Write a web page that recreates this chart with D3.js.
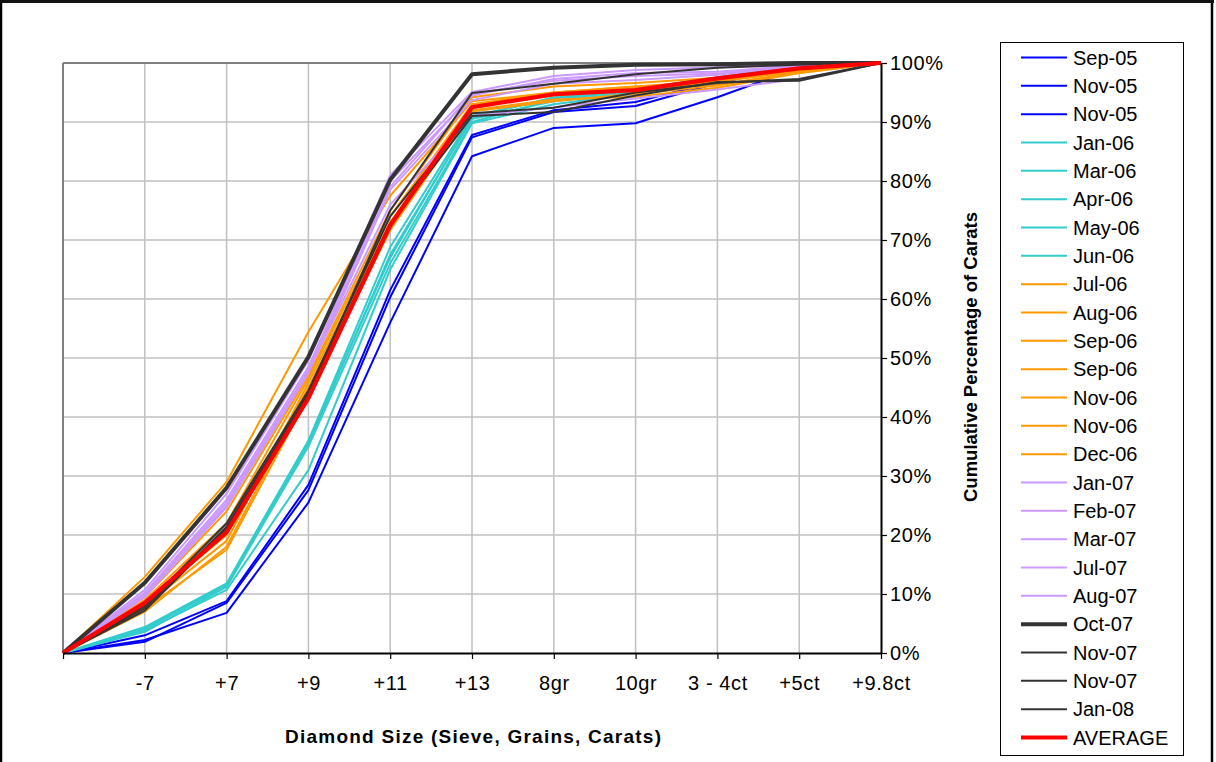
<!DOCTYPE html>
<html>
<head>
<meta charset="utf-8">
<script src="https://cdn.jsdelivr.net/npm/d3@7"></script>
<style>
  html, body { margin: 0; padding: 0; background: #fff; }
  svg { display: block; font-family: Arial, "Liberation Sans", sans-serif; }
</style>
</head>
<body>
<svg id="chart" width="1216" height="762"></svg>
<script>
// ---------- DATA ----------
const categories = ["", "-7", "+7", "+9", "+11", "+13", "8gr", "10gr", "3 - 4ct", "+5ct", "+9.8ct"];
const yTickValues = [0, 10, 20, 30, 40, 50, 60, 70, 80, 90, 100];

const seriesNames = ["Sep-05", "Nov-05", "Nov-05", "Jan-06", "Mar-06", "Apr-06", "May-06", "Jun-06",
  "Jul-06", "Aug-06", "Sep-06", "Sep-06", "Nov-06", "Nov-06", "Dec-06",
  "Jan-07", "Feb-07", "Mar-07", "Jul-07", "Aug-07",
  "Oct-07", "Nov-07", "Nov-07", "Jan-08", "AVERAGE"];

// cumulative % per series
const sep05  = [0, 2.2, 6.8, 25.5, 56.0, 84.2, 89.0, 89.8, 94.2, 99.2, 100];
const nov05a = [0, 1.9, 8.5, 27.6, 60.3, 87.4, 91.7, 92.7, 96.6, 99.5, 100];
const nov05b = [0, 3.0, 8.8, 28.5, 61.5, 87.8, 92.0, 93.4, 96.9, 99.6, 100];
const jan06  = [0, 4.4, 11.8, 36.0, 68.8, 91.0, 94.0, 95.5, 97.5, 99.3, 100];
const mar06  = [0, 4.0, 11.5, 35.5, 67.5, 90.5, 93.5, 95.0, 97.2, 99.2, 100];
const apr06  = [0, 3.6, 11.2, 35.0, 66.0, 90.0, 93.8, 95.3, 97.4, 99.4, 100];
const may06  = [0, 3.8, 10.7, 31.0, 65.0, 89.8, 93.0, 94.8, 97.0, 99.2, 100];
const jun06  = [0, 4.2, 11.6, 35.8, 67.0, 90.8, 94.2, 95.6, 97.6, 99.5, 100];
const jul06  = [0, 12.9, 29.0, 54.4, 77.5, 93.5, 95.0, 96.0, 96.3, 98.3, 100];
const aug06  = [0, 9.5, 24.0, 47.0, 75.0, 94.2, 96.0, 96.6, 97.5, 98.8, 100];
const sep06a = [0, 8.0, 19.0, 45.8, 73.0, 92.5, 94.5, 95.5, 96.8, 98.6, 100];
const sep06b = [0, 7.0, 18.0, 44.5, 72.0, 92.0, 93.8, 94.3, 95.8, 98.3, 100];
const nov06a = [0, 7.5, 17.5, 43.5, 71.7, 91.8, 93.5, 94.8, 96.2, 98.5, 100];
const nov06b = [0, 9.0, 22.0, 46.5, 74.0, 93.0, 95.0, 96.0, 97.0, 98.8, 100];
const dec06  = [0, 8.5, 20.0, 45.0, 72.5, 92.8, 94.8, 95.8, 97.2, 99.0, 100];
const jan07  = [0, 10.7, 27.0, 49.6, 81.0, 95.1, 97.8, 98.8, 99.3, 99.8, 100];
const feb07  = [0, 10.2, 26.0, 48.5, 80.0, 94.5, 97.3, 98.3, 98.5, 99.6, 100];
const mar07  = [0, 9.5, 24.7, 47.4, 78.5, 93.7, 96.5, 97.1, 98.0, 99.5, 100];
const jul07  = [0, 10.0, 25.5, 48.0, 79.0, 94.8, 97.0, 97.8, 98.2, 99.7, 100];
const aug07  = [0, 9.8, 25.0, 47.8, 76.0, 91.0, 92.5, 94.0, 95.5, 97.3, 100];
const oct07  = [0, 11.9, 28.0, 50.2, 80.2, 98.1, 99.2, 99.7, 99.8, 100, 100];
const nov07a = [0, 7.6, 21.4, 44.0, 75.0, 94.9, 96.5, 98.1, 99.2, 99.7, 100];
const nov07b = [0, 8.0, 22.0, 44.5, 74.0, 91.5, 92.4, 95.0, 96.6, 97.3, 100];
const jan08  = [0, 7.2, 21.0, 43.8, 72.8, 91.0, 91.7, 94.5, 96.8, 97.0, 100];
const average = [0, 8.5, 20.5, 43.2, 72.5, 92.5, 94.7, 95.4, 97.4, 99.1, 100];

const seriesValues = [sep05, nov05a, nov05b, jan06, mar06, apr06, may06, jun06,
  jul06, aug06, sep06a, sep06b, nov06a, nov06b, dec06,
  jan07, feb07, mar07, jul07, aug07,
  oct07, nov07a, nov07b, jan08, average];

// ---------- STYLE ----------
const BLUE = "#0000FF", TURQ = "#33CCCC", ORANGE = "#FF9900", LAV = "#CC99FF", DARK = "#333333", RED = "#FF0000";
function styleFor(i) {
  if (i < 3) return { color: BLUE, width: 2 };
  if (i < 8) return { color: TURQ, width: 2 };
  if (i < 15) return { color: ORANGE, width: 2 };
  if (i < 20) return { color: LAV, width: 2 };
  if (i === 20) return { color: DARK, width: 4 };
  if (i < 24) return { color: DARK, width: 2 };
  return { color: RED, width: 4.2 };
}

// ---------- LAYOUT ----------
const svg = d3.select("#chart");
const plot = { left: 63, right: 881, top: 63, bottom: 653 };

const x = d3.scalePoint().domain(categories).range([plot.left, plot.right]);
const y = d3.scaleLinear().domain([0, 100]).range([plot.bottom, plot.top]);

// outer border
svg.append("rect").attr("x", 1).attr("y", -2).attr("width", 1211).attr("height", 780)
  .attr("fill", "none").attr("stroke", "#000").attr("stroke-width", 2.5);
svg.append("rect").attr("x", 0).attr("y", 0).attr("width", 1214).attr("height", 3).attr("fill", "#111");

// gridlines
const grid = svg.append("g");
grid.selectAll("line.h").data(yTickValues.filter(d => d > 0 && d < 100)).enter().append("line")
  .attr("x1", plot.left).attr("x2", plot.right)
  .attr("y1", d => y(d)).attr("y2", d => y(d))
  .attr("stroke", "#C0C0C0").attr("stroke-width", 1.5);
grid.selectAll("line.v").data(categories.slice(1, -1)).enter().append("line")
  .attr("x1", d => x(d)).attr("x2", d => x(d))
  .attr("y1", plot.top).attr("y2", plot.bottom)
  .attr("stroke", "#C0C0C0").attr("stroke-width", 1.5);
// top and left plot border (gray)
svg.append("line").attr("x1", plot.left).attr("x2", plot.right).attr("y1", plot.top).attr("y2", plot.top)
  .attr("stroke", "#808080").attr("stroke-width", 2);
svg.append("line").attr("x1", plot.left).attr("x2", plot.left).attr("y1", plot.top).attr("y2", plot.bottom)
  .attr("stroke", "#808080").attr("stroke-width", 2);

// series lines
const line = d3.line().x((d, i) => x(categories[i])).y(d => y(d));
const lines = svg.append("g").attr("fill", "none").attr("stroke-linejoin", "round");
seriesValues.forEach((vals, i) => {
  const s = styleFor(i);
  lines.append("path").datum(vals).attr("d", line)
    .attr("stroke", s.color).attr("stroke-width", s.width);
});

// axes
const xAxis = svg.append("g").attr("transform", `translate(0,${plot.bottom})`)
  .call(d3.axisBottom(x).tickSize(6).tickPadding(17).tickSizeOuter(0));
xAxis.select(".domain").attr("stroke", "#000").attr("stroke-width", 2);
xAxis.selectAll(".tick line").attr("stroke", "#000").attr("stroke-width", 1.2);
xAxis.selectAll(".tick text").attr("font-size", 20).attr("fill", "#000")
  .attr("font-family", "Arial, 'Liberation Sans', sans-serif").style("letter-spacing", "0.6px");

const yAxis = svg.append("g").attr("transform", `translate(${plot.right},0)`)
  .call(d3.axisRight(y).tickValues(yTickValues).tickFormat(d => d + "%").tickSize(6).tickPadding(3).tickSizeOuter(0));
yAxis.select(".domain").attr("stroke", "#000").attr("stroke-width", 2);
yAxis.selectAll(".tick line").attr("stroke", "#000").attr("stroke-width", 1.2);
yAxis.selectAll(".tick text").attr("font-size", 20).attr("fill", "#000")
  .attr("font-family", "Arial, 'Liberation Sans', sans-serif").style("letter-spacing", "0.6px");

// axis titles
svg.append("text").attr("x", 473).attr("y", 743).attr("text-anchor", "middle")
  .attr("font-size", 19).attr("font-weight", "bold")
  .attr("textLength", 376).attr("lengthAdjust", "spacing")
  .text("Diamond Size (Sieve, Grains, Carats)");
svg.append("text").attr("transform", "translate(977,357) rotate(-90)").attr("text-anchor", "middle")
  .attr("font-size", 18.5).attr("font-weight", "bold")
  .attr("textLength", 290).attr("lengthAdjust", "spacing")
  .text("Cumulative Percentage of Carats");

// legend
const lg = svg.append("g");
lg.append("rect").attr("x", 1000.5).attr("y", 42.5).attr("width", 183).attr("height", 713)
  .attr("fill", "#fff").attr("stroke", "#000").attr("stroke-width", 1);
const ly = d3.scaleLinear().domain([0, seriesNames.length - 1]).range([57.5, 737.5]);
seriesNames.forEach((name, i) => {
  const s = styleFor(i);
  lg.append("line").attr("x1", 1021).attr("x2", 1067).attr("y1", ly(i)).attr("y2", ly(i))
    .attr("stroke", s.color).attr("stroke-width", s.width);
  lg.append("text").attr("x", 1073).attr("y", ly(i)).attr("dy", "0.36em")
    .attr("font-size", 20).attr("fill", "#000").text(name);
});
</script>
</body>
</html>
